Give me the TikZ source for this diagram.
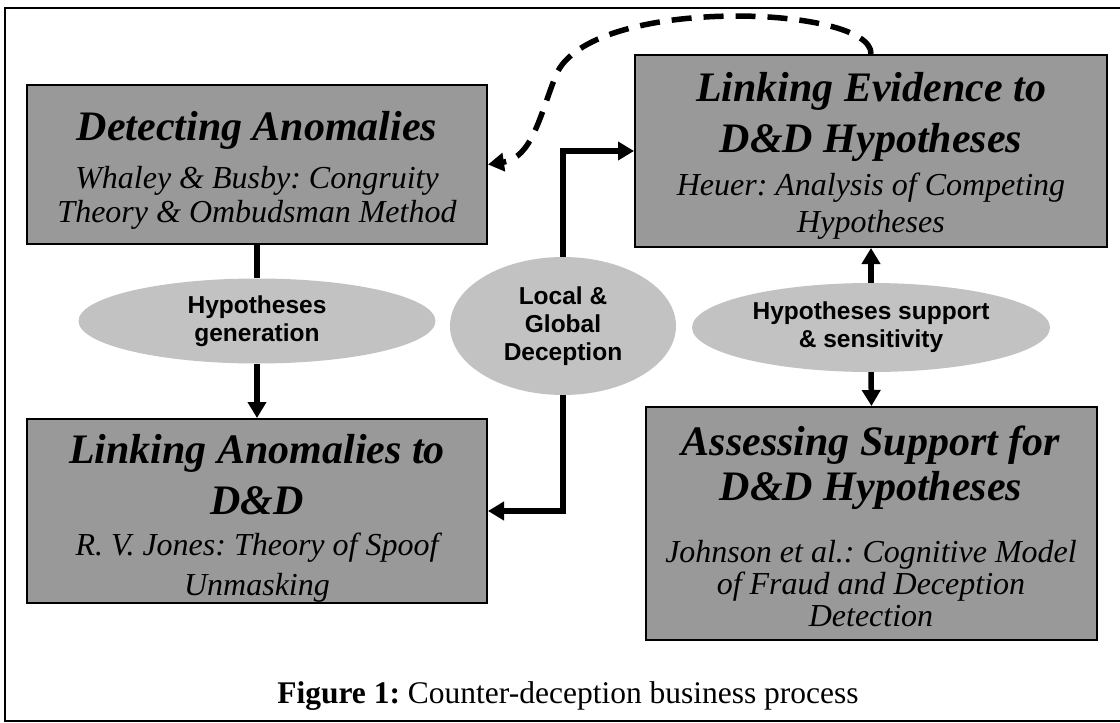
\documentclass[tikz,border=0pt]{standalone}
\usepackage{fontspec}
\setmainfont{Liberation Serif}
\newfontfamily\arialfont{Liberation Sans}
\usetikzlibrary{arrows.meta,shapes.geometric}
\newcommand{\stk}[1]{\begin{tabular}[t]{@{}c@{}}#1\end{tabular}}
\frenchspacing
\begin{document}
\begin{tikzpicture}[x=1pt,y=-1pt,
  box/.style={draw=black,line width=2pt,fill=black!40,inner sep=0pt},
  oval/.style={ellipse,fill=black!24,inner sep=0pt,align=center,
    font=\arialfont\bfseries\fontsize{24.5}{28}\selectfont},
  ttl/.style={anchor=base,inner sep=0pt,font=\bfseries\itshape\fontsize{42}{#1}\selectfont},
  sub/.style={anchor=base,inner sep=0pt,font=\itshape\fontsize{32}{#1}\selectfont},
  conn/.style={line width=5.5pt,-{Triangle[width=18pt,length=16pt]}},
  plain/.style={line width=5.5pt},
  dashline/.style={line width=5.5pt,dash pattern=on 20pt off 12pt,-{Triangle[width=18pt,length=16pt]}}]
\useasboundingbox (0,0) rectangle (1120,723);
\fill[white] (0,0) rectangle (1120,723);
\draw[line width=2pt] (1125,8) -- (5,8) -- (5,721) -- (1125,721);

% boxes
\node[box,minimum width=460pt,minimum height=159pt] (b1) at (257,164.5) {};
\node[box,minimum width=460pt,minimum height=184pt] (b2) at (257,511) {};
\node[box,minimum width=472pt,minimum height=192pt] (b3) at (871,151) {};
\node[box,minimum width=451pt,minimum height=233pt] (b4) at (871.5,523.5) {};

% box texts
\node[ttl=50] (t1) at (257,140) {\stk{Detecting Anomalies}};
\node[sub=34] (s1) at (257,188) {\stk{Whaley \& Busby: Congruity\\Theory \& Ombudsman Method}};
\node[ttl=51] (t2) at (257,463) {\stk{Linking Anomalies to\\D\&D}};
\node[sub=40] (s2) at (257,555) {\stk{R. V. Jones: Theory of Spoof\\Unmasking}};
\node[ttl=51] (t3) at (871,101) {\stk{Linking Evidence to\\D\&D Hypotheses}};
\node[sub=37] (s3) at (871,195) {\stk{Heuer: Analysis of Competing\\Hypotheses}};
\node[ttl=45] (t4) at (871,455) {\stk{Assessing Support for\\D\&D Hypotheses}};
\node[sub=32] (s4) at (871,562) {\stk{Johnson et al.: Cognitive Model\\of Fraud and Deception\\Detection}};

% ellipses
\node[oval,minimum width=357pt,minimum height=85pt] (e1) at (257,321) {Hypotheses\\generation};
\node[oval,minimum width=226pt,minimum height=138pt] (e2) at (563,326) {Local \&\\Global\\Deception};
\node[oval,minimum width=358pt,minimum height=89pt] (e3) at (871,327.5) {Hypotheses support\\\& sensitivity};

% connectors
\draw[plain] (b1.south) -- (e1.north);
\draw[conn] (e1.south) -- (b2.north);
\draw[conn] (e2.north) |- (b3.west);
\draw[conn] (e2.south) |- (b2.east);
\draw[conn] (e3.north) -- (b3.south);
\draw[conn] (e3.south) -- (b4.north);
\coordinate (dmid) at (556,75);
\draw[dashline] (b3.north) .. controls (873,5) and (590,-5) .. (dmid)
  .. controls (540,115) and (532,158) .. (b1.east);

% caption
\node[anchor=base,inner sep=0pt,font=\fontsize{31.5}{36}\selectfont] (cap) at (568,703)
  {\textbf{Figure 1:} Counter-deception business process};
\end{tikzpicture}
\end{document}
